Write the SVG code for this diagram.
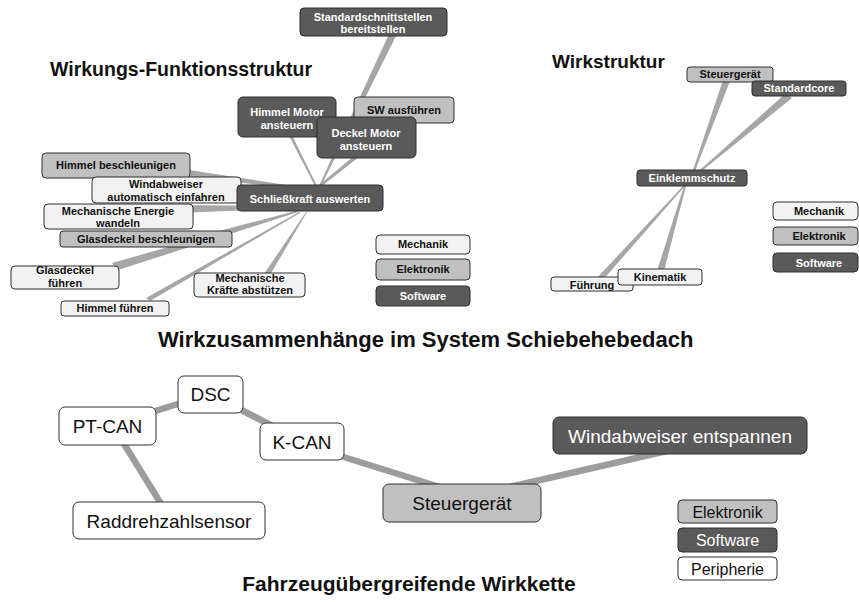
<svg xmlns="http://www.w3.org/2000/svg" width="859" height="602" viewBox="0 0 859 602">
  <style>
    .bg { fill: #ffffff; }
    .title { font-family: "Liberation Sans", Arial, sans-serif; font-weight: bold; fill: #111; }
    .sm rect { stroke: #2e2e2e; stroke-width: 1; }
    .sm text { font-family: "Liberation Sans", Arial, sans-serif; font-weight: bold; font-size: 11px; text-anchor: middle; }
    .lg rect { stroke: #2e2e2e; stroke-width: 1; }
    .lg text { font-family: "Liberation Sans", Arial, sans-serif; font-size: 19px; text-anchor: middle; }
    .leg16 text { font-size: 16px; }
    .dark rect { fill: #5a5a5a; }
    .dark text { fill: #ffffff; }
    .mid rect { fill: #c0c0c0; }
    .mid text { fill: #111111; }
    .light rect { fill: #f2f2f2; }
    .light text { fill: #111111; }
    .white rect { fill: #ffffff; }
    .white text { fill: #111111; }
    .wedge { fill: #a6a6a6; }
    .bus { stroke: #9c9c9c; stroke-width: 6.5; stroke-linecap: round; fill: none; }
  </style>

  <rect class="bg" x="0" y="0" width="859" height="602"/>

  <!-- Titles -->
  <text class="title" x="50" y="76" font-size="19.5">Wirkungs-Funktionsstruktur</text>
  <text class="title" x="552" y="68" font-size="19">Wirkstruktur</text>
  <text class="title" x="158" y="347" font-size="22">Wirkzusammenhänge im System Schiebehebedach</text>
  <text class="title" x="409" y="591" font-size="21" text-anchor="middle">Fahrzeugübergreifende Wirkkette</text>

  <!-- Connectors: tapered wedges, broad at the outer node, narrow at the hub -->
  <g id="connectors">
    <!-- Wirkungs-Funktionsstruktur, upper hub -->
    <polygon class="wedge" points="389,34 396,36 320,188 318,188"/>
    <polygon class="wedge" points="286,130 290,131 318,188 316,188"/>
    <polygon class="wedge" points="400,118 404,121 319,188 317,187"/>
    <polygon class="wedge" points="364,148 368,150 319,188 317,187"/>
    <!-- Wirkungs-Funktionsstruktur, left fan -->
    <polygon class="wedge" points="150,164 150,172 312,191 312,189"/>
    <polygon class="wedge" points="170,186 170,193 305,199 305,197"/>
    <polygon class="wedge" points="180,205 181,213 300,208 300,206"/>
    <polygon class="wedge" points="215,232 220,237 297,212 296,211"/>
    <polygon class="wedge" points="112,263 118,270 298,212 296,211"/>
    <polygon class="wedge" points="146,298 150,301 300,213 299,212"/>
    <polygon class="wedge" points="264,274 270,275 307,212 306,212"/>
    <!-- Wirkstruktur -->
    <polygon class="wedge" points="723,80 730,81 693,176 691,176"/>
    <polygon class="wedge" points="785,94 792,98 693,178 692,177"/>
    <polygon class="wedge" points="596,279 602,281 685,186 684,185"/>
    <polygon class="wedge" points="657,271 664,271 686,186 684,186"/>
    <!-- Fahrzeugübergreifende Wirkkette -->
    <line class="bus" x1="107" y1="426" x2="210" y2="394"/>
    <line class="bus" x1="113" y1="426" x2="171" y2="520"/>
    <line class="bus" x1="210" y1="394" x2="302" y2="441"/>
    <line class="bus" x1="302" y1="444" x2="462" y2="494"/>
    <line class="bus" x1="462" y1="498" x2="680" y2="448"/>
  </g>

  <!-- Wirkungs-Funktionsstruktur nodes -->
  <g id="n-standardschnittstellen" class="sm dark">
    <rect x="300" y="8" width="147" height="28" rx="4"/>
    <text x="373" y="20.5">Standardschnittstellen</text>
    <text x="373" y="33">bereitstellen</text>
  </g>
  <g id="n-himmel-motor" class="sm dark">
    <rect x="238" y="97" width="98" height="40" rx="5"/>
    <text x="287" y="116">Himmel Motor</text>
    <text x="287" y="129">ansteuern</text>
  </g>
  <g id="n-sw-ausfuehren" class="sm mid">
    <rect x="354" y="97" width="100" height="26" rx="4"/>
    <text x="404" y="114">SW ausführen</text>
  </g>
  <g id="n-deckel-motor" class="sm dark">
    <rect x="317" y="117" width="99" height="41" rx="5"/>
    <text x="366" y="137">Deckel Motor</text>
    <text x="366" y="150">ansteuern</text>
  </g>
  <g id="n-himmel-beschleunigen" class="sm mid">
    <rect x="42" y="153" width="148" height="25" rx="4"/>
    <text x="116" y="169">Himmel beschleunigen</text>
  </g>
  <g id="n-windabweiser-einfahren" class="sm light">
    <rect x="92" y="177" width="149" height="26" rx="4"/>
    <text x="166" y="188">Windabweiser</text>
    <text x="166" y="201">automatisch einfahren</text>
  </g>
  <g id="n-schliesskraft" class="sm dark">
    <rect x="237" y="185" width="146" height="26" rx="4"/>
    <text x="310" y="203">Schließkraft auswerten</text>
  </g>
  <g id="n-mech-energie" class="sm light">
    <rect x="44" y="204" width="149" height="25" rx="4"/>
    <text x="118" y="215">Mechanische Energie</text>
    <text x="118" y="227">wandeln</text>
  </g>
  <g id="n-glasdeckel-beschleunigen" class="sm mid">
    <rect x="60" y="231" width="172" height="16" rx="3"/>
    <text x="146" y="243">Glasdeckel beschleunigen</text>
  </g>
  <g id="n-glasdeckel-fuehren" class="sm light">
    <rect x="11" y="266" width="108" height="23" rx="4"/>
    <text x="65" y="274">Glasdeckel</text>
    <text x="65" y="287">führen</text>
  </g>
  <g id="n-himmel-fuehren" class="sm light">
    <rect x="61" y="301" width="108" height="15" rx="3"/>
    <text x="115" y="312">Himmel führen</text>
  </g>
  <g id="n-mech-kraefte" class="sm light">
    <rect x="194" y="273" width="111" height="24" rx="4"/>
    <text x="250" y="282">Mechanische</text>
    <text x="250" y="294">Kräfte abstützen</text>
  </g>
  <g id="legend-left-mechanik" class="sm light">
    <rect x="376" y="235" width="94" height="19" rx="4"/>
    <text x="423" y="248">Mechanik</text>
  </g>
  <g id="legend-left-elektronik" class="sm mid">
    <rect x="376" y="259" width="94" height="21" rx="4"/>
    <text x="423" y="273">Elektronik</text>
  </g>
  <g id="legend-left-software" class="sm dark">
    <rect x="376" y="286" width="94" height="20" rx="4"/>
    <text x="423" y="300">Software</text>
  </g>

  <!-- Wirkstruktur nodes -->
  <g id="n-ws-steuergeraet" class="sm mid">
    <rect x="687" y="67" width="86" height="15" rx="3"/>
    <text x="730" y="78">Steuergerät</text>
  </g>
  <g id="n-ws-standardcore" class="sm dark">
    <rect x="752" y="81" width="94" height="15" rx="3"/>
    <text x="799" y="92">Standardcore</text>
  </g>
  <g id="n-ws-einklemmschutz" class="sm dark">
    <rect x="637" y="170" width="110" height="16" rx="3"/>
    <text x="692" y="182">Einklemmschutz</text>
  </g>
  <g id="n-ws-fuehrung" class="sm light">
    <rect x="551" y="277" width="82" height="14" rx="3"/>
    <text x="592" y="289">Führung</text>
  </g>
  <g id="n-ws-kinematik" class="sm light">
    <rect x="618" y="269" width="84" height="16" rx="3"/>
    <text x="660" y="281">Kinematik</text>
  </g>
  <g id="legend-right-mechanik" class="sm light">
    <rect x="773" y="202" width="85" height="18" rx="4"/>
    <text x="819" y="215">Mechanik</text>
  </g>
  <g id="legend-right-elektronik" class="sm mid">
    <rect x="773" y="227" width="85" height="18" rx="4"/>
    <text x="819" y="240">Elektronik</text>
  </g>
  <g id="legend-right-software" class="sm dark">
    <rect x="773" y="253" width="85" height="19" rx="4"/>
    <text x="819" y="267">Software</text>
  </g>

  <!-- Fahrzeugübergreifende Wirkkette nodes -->
  <g id="n-dsc" class="lg white">
    <rect x="178" y="376" width="65" height="37" rx="6"/>
    <text x="210.5" y="401">DSC</text>
  </g>
  <g id="n-pt-can" class="lg white">
    <rect x="59" y="407" width="97" height="38" rx="6"/>
    <text x="107.5" y="433">PT-CAN</text>
  </g>
  <g id="n-k-can" class="lg white">
    <rect x="260" y="423" width="84" height="37" rx="6"/>
    <text x="302" y="449">K-CAN</text>
  </g>
  <g id="n-raddrehzahlsensor" class="lg white">
    <rect x="73" y="502" width="192" height="37" rx="6"/>
    <text x="169" y="528">Raddrehzahlsensor</text>
  </g>
  <g id="n-steuergeraet" class="lg mid">
    <rect x="383" y="484" width="158" height="38" rx="6"/>
    <text x="462" y="510">Steuergerät</text>
  </g>
  <g id="n-windabweiser-entspannen" class="lg dark">
    <rect x="553" y="417" width="254" height="37" rx="6"/>
    <text x="680" y="443">Windabweiser entspannen</text>
  </g>
  <g id="legend-bottom-elektronik" class="lg leg16 mid">
    <rect x="678" y="500" width="99" height="23" rx="4"/>
    <text x="727.5" y="518">Elektronik</text>
  </g>
  <g id="legend-bottom-software" class="lg leg16 dark">
    <rect x="678" y="528" width="99" height="24" rx="4"/>
    <text x="727.5" y="546">Software</text>
  </g>
  <g id="legend-bottom-peripherie" class="lg leg16 white">
    <rect x="678" y="557" width="99" height="23" rx="4"/>
    <text x="727.5" y="575">Peripherie</text>
  </g>
</svg>
